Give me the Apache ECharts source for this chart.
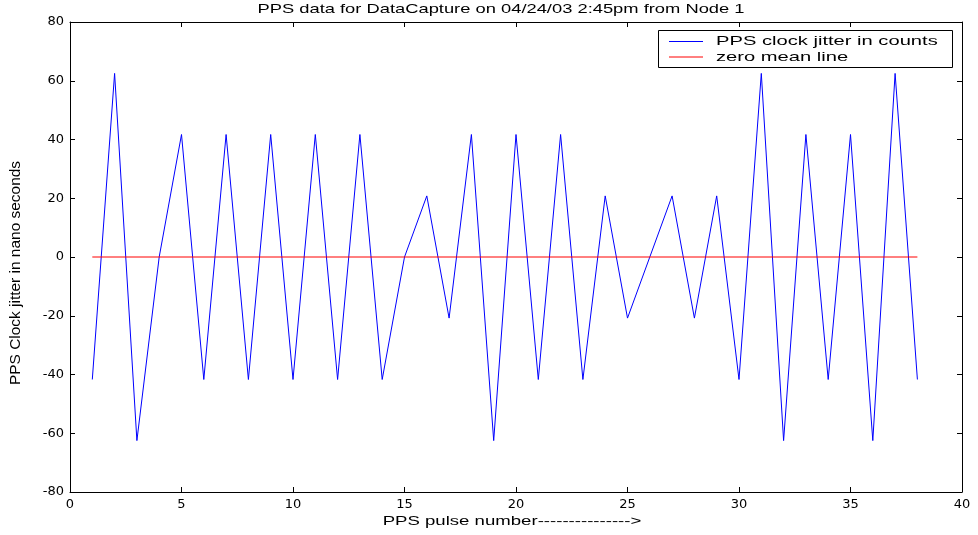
<!DOCTYPE html>
<html><head><meta charset="utf-8">
<script src="https://cdn.jsdelivr.net/npm/echarts@6/dist/echarts.min.js"></script>
<style>html,body{margin:0;padding:0;background:#fff}#c{width:978px;height:535px}</style>
</head><body><div id="c"></div>
<script>
const pulseNumbers = [1,2,3,4,5,6,7,8,9,10,11,12,13,14,15,16,17,18,19,20,21,22,23,24,25,26,27,28,29,30,31,32,33,34,35,36,37,38];
const jitterValues = [-41.7,62.5,-62.5,0,41.7,-41.7,41.7,-41.7,41.7,-41.7,41.7,-41.7,41.7,-41.7,0,20.8,-20.8,41.7,-62.5,41.7,-41.7,41.7,-41.7,20.8,-20.8,0,20.8,-20.8,20.8,-41.7,62.5,-62.5,41.7,-41.7,41.7,-62.5,62.5,-41.7];
const zeroMeanX = [1, 38];
const zeroMeanY = [0, 0];
const xTicks = [0,5,10,15,20,25,30,35,40];
const yTicks = [-80,-60,-40,-20,0,20,40,60,80];
const seriesNames = ['PPS clock jitter in counts', 'zero mean line'];
const seriesColors = ['#0000ff', '#ff0000'];
const titleText = 'PPS data for DataCapture on 04/24/03 2:45pm from Node 1';
const xName = 'PPS pulse number--------------->';
const yName = 'PPS Clock jitter in nano seconds';

const chart = echarts.init(document.getElementById('c'), null, {renderer:'canvas'});
const font = 'Liberation Sans, Arial, sans-serif';
const tickFont = 'DejaVu Sans, sans-serif';
const axisCommon = {
  axisLine:{show:true, onZero:false, lineStyle:{color:'#000', width:1}},
  axisTick:{show:true, inside:true, length:5, lineStyle:{color:'#000'}},
  splitLine:{show:false}
};
function stretchedText(text, x, y, opts) {
  return Object.assign({type:'text', x:x, y:y, silent:true,
    style:{text:text, fill:'#000', font:'13px ' + font, textAlign:'center', textVerticalAlign:'middle'}}, opts || {});
}
const graphic = [
  stretchedText(titleText, 501, 9.5, {scaleX:1.41}),
  stretchedText(xName, 512, 521, {scaleX:1.43}),
  stretchedText(yName, 15.5, 273, {rotation:Math.PI/2, scaleX:1.03}),
  {type:'rect', shape:{x:658.5, y:30.5, width:294, height:37}, style:{fill:'#fff', stroke:'#000', lineWidth:1}, silent:true}
];
graphic[2].style.font = '15px ' + font;
seriesNames.forEach((n, i) => {
  const cy = 41.5 + i * 15.5;
  graphic.push({type:'line', shape:{x1:669, y1:cy, x2:703, y2:cy}, style:{stroke:seriesColors[i], lineWidth:1}, silent:true});
  graphic.push({type:'text', x:716, y:cy, scaleX:1.55, silent:true,
    style:{text:n, fill:'#000', font:'13px ' + font, textAlign:'left', textVerticalAlign:'middle'}});
});

chart.setOption({
  animation:false,
  backgroundColor:'#fff',
  grid:{left:70, right:16, top:22, bottom:43, containLabel:false},
  legend:{show:false, data:seriesNames},
  xAxis:[
    Object.assign({type:'value', min:xTicks[0], max:xTicks[xTicks.length-1], interval:5, position:'bottom',
      axisLabel:{fontFamily:tickFont, fontSize:13, color:'#000', margin:6}}, axisCommon),
    Object.assign({type:'value', min:xTicks[0], max:xTicks[xTicks.length-1], interval:5, position:'top', axisLabel:{show:false}}, axisCommon)
  ],
  yAxis:[
    Object.assign({type:'value', min:yTicks[0], max:yTicks[yTicks.length-1], interval:20, position:'left',
      axisLabel:{fontFamily:tickFont, fontSize:13, color:'#000', margin:6}}, axisCommon),
    Object.assign({type:'value', min:yTicks[0], max:yTicks[yTicks.length-1], interval:20, position:'right', axisLabel:{show:false}}, axisCommon)
  ],
  graphic: graphic,
  series:[
    {name:seriesNames[0], type:'line', symbol:'none', xAxisIndex:0, yAxisIndex:0,
      data:pulseNumbers.map((x,i)=>[x, jitterValues[i]]),
      lineStyle:{color:seriesColors[0], width:1}, itemStyle:{color:seriesColors[0]}},
    {name:seriesNames[1], type:'line', symbol:'none', xAxisIndex:0, yAxisIndex:0,
      data:zeroMeanX.map((x,i)=>[x, zeroMeanY[i]]),
      lineStyle:{color:seriesColors[1], width:1}, itemStyle:{color:seriesColors[1]}}
  ]
});
</script></body></html>
